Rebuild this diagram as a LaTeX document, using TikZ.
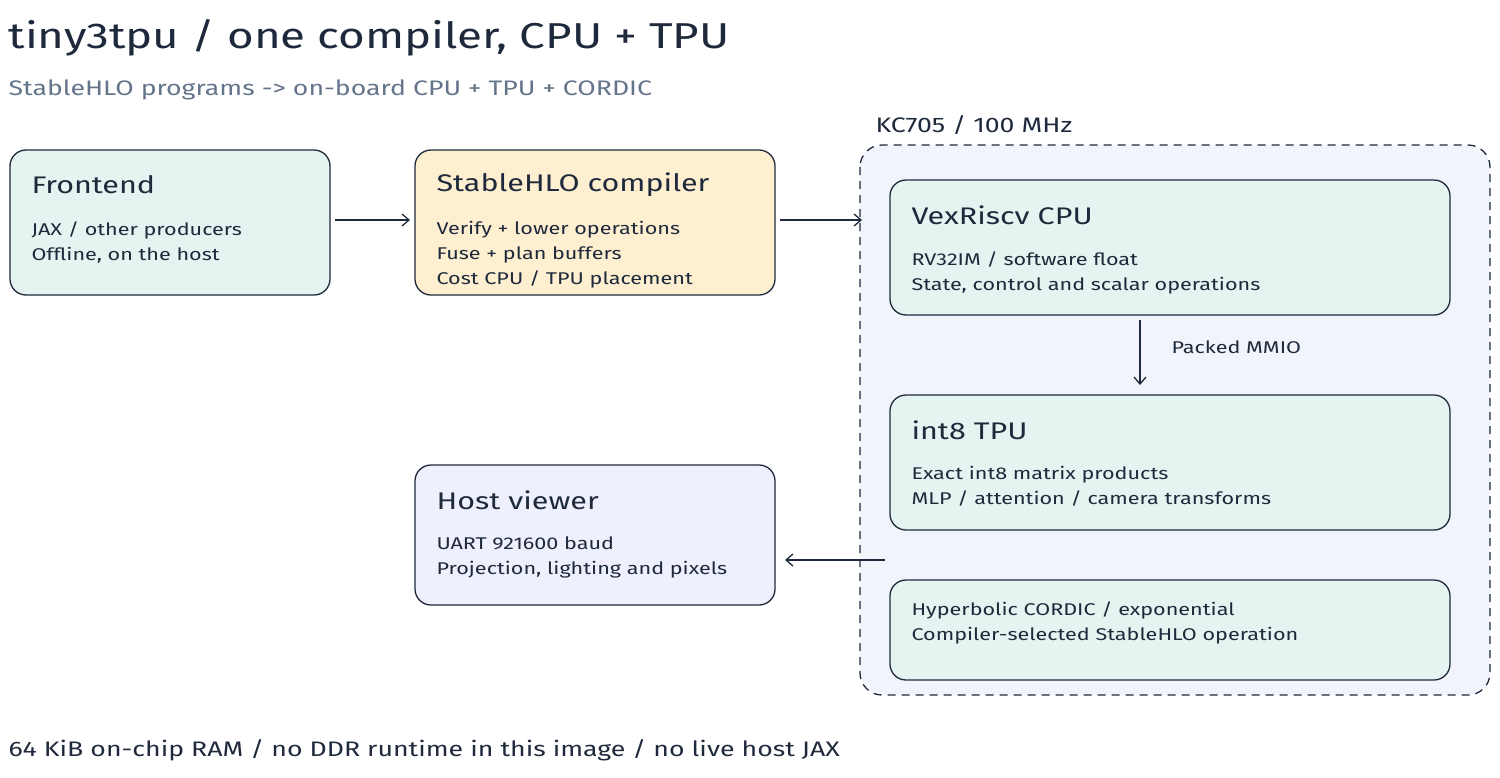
\documentclass[tikz,border=0pt]{standalone}
\usepackage{fontspec}
\setmainfont{Fira Sans}[FakeStretch=1.27]
\usetikzlibrary{arrows.meta}
\begin{document}
\begin{tikzpicture}[x=1pt,y=-1pt,
 box/.style={draw=ink,line width=1.3pt,rounded corners=16pt},
 ttl/.style={anchor=west,font=\fontsize{24}{28}\selectfont,text=ink},
 bdy/.style={anchor=north west,align=left,font=\fontsize{17}{25}\selectfont,text=ink},
 arr/.style={draw=ink,line width=1.3pt,-{Straight Barb[length=7pt,width=12pt]}}]
\definecolor{ink}{HTML}{1E293B}
\definecolor{teal}{HTML}{E6F4F1}
\definecolor{cream}{HTML}{FDEFD0}
\definecolor{lav}{HTML}{EEF0FD}
\definecolor{pale}{HTML}{F1F5FB}
\definecolor{gr}{HTML}{64748B}
\useasboundingbox (0,0) rectangle (1500,777);
\node[anchor=west,font=\fontsize{36}{40}\selectfont,text=ink] (title) at (5,38) {tiny3tpu / one compiler, CPU + TPU};
\node[anchor=west,font=\fontsize{21}{25}\selectfont,text=gr] (sub) at (5,90) {StableHLO programs -> on-board CPU + TPU + CORDIC};
\node[anchor=west,font=\fontsize{21}{25}\selectfont,text=ink] (kc) at (872,125) {KC705 / 100 MHz};
\draw[draw=ink,line width=1.3pt,dash pattern=on 8pt off 6pt,rounded corners=22pt,fill=pale] (860,145) rectangle (1490,695);
\node[box,fill=teal,minimum width=320pt,minimum height=145pt] (fe) at (170,222.5) {};
\node[box,fill=cream,minimum width=360pt,minimum height=145pt] (sc) at (595,222.5) {};
\node[box,fill=teal,minimum width=560pt,minimum height=135pt] (cpu) at (1170,247.5) {};
\node[box,fill=teal,minimum width=560pt,minimum height=135pt] (tpu) at (1170,462.5) {};
\node[box,fill=lav,minimum width=360pt,minimum height=140pt] (hv) at (595,535) {};
\node[box,fill=teal,minimum width=560pt,minimum height=100pt] (cd) at (1170,630) {};
\node[ttl] at (28,185) {Frontend};
\node[bdy] at (28,218) {JAX / other producers\\Offline, on the host};
\node[ttl] at (433,185) {StableHLO compiler};
\node[bdy] at (433,218) {Verify + lower operations\\Fuse + plan buffers\\Cost CPU / TPU placement};
\node[ttl] at (908,215) {VexRiscv CPU};
\node[bdy] at (908,248) {RV32IM / software float\\State, control and scalar operations};
\node[ttl] at (908,430) {int8 TPU};
\node[bdy] at (908,463) {Exact int8 matrix products\\MLP / attention / camera transforms};
\node[ttl] at (433,500) {Host viewer};
\node[bdy] at (433,533) {UART 921600 baud\\Projection, lighting and pixels};
\node[bdy] at (908,598) {Hyperbolic CORDIC / exponential\\Compiler-selected StableHLO operation};
\coordinate (cont) at (862,220);
\coordinate (contL) at (885,560);
\coordinate (mmA) at (1140,320);
\coordinate (mmB) at (1140,385);
\coordinate (fA) at (335,220);
\coordinate (fB) at (410,220);
\coordinate (sA) at (780,220);
\coordinate (hB) at (785,560);
\draw[arr] (fA) -- (fB);
\draw[arr] (sA) -- (cont);
\draw[arr] (mmA) -- (mmB);
\node[anchor=west,font=\fontsize{17}{20}\selectfont,text=ink] (mm) at (1168,347) {Packed MMIO};
\draw[arr] (contL) -- (hB);
\node[anchor=west,font=\fontsize{21}{25}\selectfont,text=ink] (foot) at (5,750) {64 KiB on-chip RAM / no DDR runtime in this image / no live host JAX};
\end{tikzpicture}
\end{document}
